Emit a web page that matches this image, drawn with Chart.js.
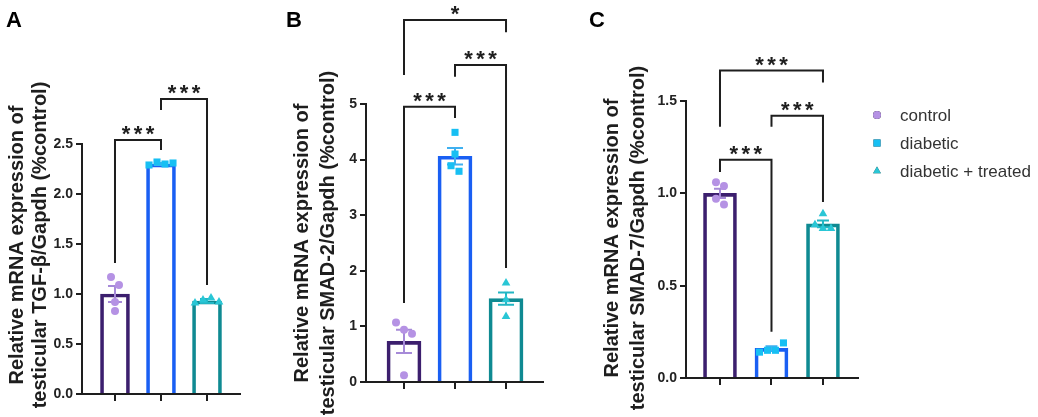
<!DOCTYPE html>
<html><head><meta charset="utf-8">
<script src="https://cdn.jsdelivr.net/npm/chart.js@4.4.0/dist/chart.umd.min.js"></script>
<style>
html,body{margin:0;padding:0;background:#fff;}
#wrap{position:relative;width:1038px;height:417px;overflow:hidden;background:#fff;}
canvas{position:absolute;top:0;}
</style></head><body>
<div id="wrap">
<canvas id="cA" width="262" height="417" style="left:0px"></canvas>
<canvas id="cB" width="318" height="417" style="left:262px"></canvas>
<canvas id="cC" width="458" height="417" style="left:580px"></canvas>
</div>
<script>
// ---------- DATA ----------
const groups = ['control', 'diabetic', 'diabetic + treated'];

// Panel A: TGF-β
const meanA = [1.00, 2.30, 0.93];
const semA  = [0.08, 0.01, 0.02];
const ptsA_control  = [1.17, 1.09, 0.92, 0.83];
const ptsA_diabetic = [2.29, 2.32, 2.30, 2.31];
const ptsA_treated  = [0.91, 0.94, 0.96, 0.92];
const yTicksA = [0, 0.5, 1.0, 1.5, 2.0, 2.5];
const sigA = [
  { from: 0, to: 1, top: 2.54, leftEnd: 1.31, rightEnd: 2.44, label: '***' },
  { from: 1, to: 2, top: 2.95, leftEnd: 2.84, rightEnd: 1.09, label: '***' }
];

// Panel B: SMAD-2
const meanB = [0.73, 4.06, 1.50];
const semB  = [0.21, 0.15, 0.11];
const ptsB_control  = [1.07, 0.94, 0.87, 0.12];
const ptsB_diabetic = [4.49, 4.10, 3.89, 3.79];
const ptsB_treated  = [1.78, 1.48, 1.18];
const yTicksB = [0, 1, 2, 3, 4, 5];
const sigB = [
  { from: 0, to: 1, top: 4.95, leftEnd: 1.42, rightEnd: 4.75, label: '***' },
  { from: 1, to: 2, top: 5.70, leftEnd: 5.49, rightEnd: 2.05, label: '***' },
  { from: 0, to: 2, top: 6.51, leftEnd: 5.52, rightEnd: 6.29, label: '*' }
];

// Panel C: SMAD-7
const meanC = [1.00, 0.16, 0.835];
const semC  = [0.025, 0.012, 0.018];
const ptsC_control  = [1.06, 1.04, 0.97, 0.94];
const ptsC_diabetic = [0.14, 0.15, 0.15, 0.19];
const ptsC_treated  = [0.89, 0.83, 0.81, 0.81];
const yTicksC = [0, 0.5, 1.0, 1.5];
const sigC = [
  { from: 0, to: 1, top: 1.182, leftEnd: 1.115, rightEnd: 0.25, label: '***' },
  { from: 1, to: 2, top: 1.42, leftEnd: 1.36, rightEnd: 0.953, label: '***' },
  { from: 0, to: 2, top: 1.665, leftEnd: 1.36, rightEnd: 1.60, label: '***' }
];

const titleLine1 = 'Relative mRNA expression of';
const titleA = 'testicular TGF-β/Gapdh (%control)';
const titleB = 'testicular SMAD-2/Gapdh (%control)';
const titleC = 'testicular SMAD-7/Gapdh (%control)';

// ---------- STYLE ----------
const FONT = "'Liberation Sans', Arial, Helvetica, sans-serif";
const barBorder  = ['#3c1f6e', '#1a5ff3', '#0f8a92'];
const pointColor = ['#b592e4', '#17bff3', '#29c6d5'];
const errColor   = ['#a68ad8', '#3fb0f0', '#22b6c4'];
const pointStyles = ['circle', 'rect', 'triangle'];
const pointRadius = [4, 5, 5];
const INK = '#1e1e1e';

function spreadOffsets(vals, pxPerUnit, gap) {
  const idx = vals.map((v, i) => i).sort((a, b) => vals[b] - vals[a]);
  const off = new Array(vals.length).fill(0);
  let cluster = [idx[0]];
  const flush = () => {
    const c = cluster.slice().sort((a, b) => a - b);
    const k = c.length;
    c.forEach((id, j) => { off[id] = (j - (k - 1) / 2) * gap; });
  };
  for (let i = 1; i < idx.length; i++) {
    const prev = idx[i - 1], cur = idx[i];
    if ((vals[prev] - vals[cur]) * pxPerUnit < gap) cluster.push(cur);
    else { flush(); cluster = [cur]; }
  }
  flush();
  return off;
}

function makePanel(id, p) {
  const cv = document.getElementById(id);
  const W = cv.width, H = cv.height;
  const a = p.area;
  const yMax = p.yTicks[p.yTicks.length - 1];
  const pxPerUnit = (a.bottom - a.top) / yMax;
  const pxPerCat = (a.right - a.left) / (p.xMax - p.xMin);

  const datasets = [{
    type: 'bar',
    order: 5,
    data: p.means.map((m, i) => ({ x: i, y: m })),
    backgroundColor: 'rgba(255,255,255,0)',
    borderColor: barBorder,
    borderWidth: 3,
    borderSkipped: 'bottom',
    barThickness: p.barThickness
  }];
  p.points.forEach((arr, g) => {
    const off = spreadOffsets(arr, pxPerUnit, 8);
    datasets.push({
      type: 'scatter',
      order: 0,
      data: arr.map((v, i) => ({ x: g + off[i] / pxPerCat, y: v })),
      pointStyle: pointStyles[g],
      pointRadius: pointRadius[g],
      pointBackgroundColor: pointColor[g],
      pointBorderWidth: 0,
      pointBorderColor: pointColor[g]
    });
  });

  const decor = {
    id: 'decor',
    afterDatasetDraw(chart, args) {
      if (args.index !== 0) return;
      const ctx = chart.ctx, xs = chart.scales.x, ys = chart.scales.y;
      ctx.save();
      ctx.lineWidth = 2;
      p.means.forEach((m, i) => {
        const x = xs.getPixelForValue(i);
        const yt = ys.getPixelForValue(m + p.sems[i]);
        const yb = ys.getPixelForValue(m - p.sems[i]);
        ctx.strokeStyle = errColor[i];
        ctx.beginPath();
        ctx.moveTo(x, yt); ctx.lineTo(x, yb);
        ctx.moveTo(x - p.cap, yt); ctx.lineTo(x + p.cap, yt);
        ctx.moveTo(x - p.cap, yb); ctx.lineTo(x + p.cap, yb);
        ctx.stroke();
      });
      ctx.restore();
    },
    afterDraw(chart) {
      const ctx = chart.ctx, xs = chart.scales.x, ys = chart.scales.y;
      ctx.save();
      // brackets
      ctx.strokeStyle = INK; ctx.lineWidth = 2; ctx.lineJoin = 'miter';
      ctx.fillStyle = INK;
      p.brackets.forEach(b => {
        const x1 = xs.getPixelForValue(b.from), x2 = xs.getPixelForValue(b.to);
        const yt = ys.getPixelForValue(b.top);
        const yl = ys.getPixelForValue(b.leftEnd), yr = ys.getPixelForValue(b.rightEnd);
        ctx.beginPath();
        ctx.moveTo(x1, yl); ctx.lineTo(x1, yt); ctx.lineTo(x2, yt); ctx.lineTo(x2, yr);
        ctx.stroke();
        const fs = 22;
        ctx.font = `bold ${fs}px ${FONT}`;
        ctx.textAlign = 'center'; ctx.textBaseline = 'alphabetic';
        const cx = (x1 + x2) / 2, cy = yt - 12;
        const n = b.label.length, sp = 12;
        for (let k = 0; k < n; k++) {
          ctx.fillText('*', cx + (k - (n - 1) / 2) * sp, cy + 0.6 * fs);
        }
      });
      // axis titles
      ctx.fillStyle = INK;
      ctx.font = `bold 20px ${FONT}`;
      ctx.textAlign = 'center'; ctx.textBaseline = 'middle';
      [p.title1, p.title2].forEach((t, k) => {
        ctx.save();
        ctx.translate(p.titleX[k], p.titleCY);
        ctx.rotate(-Math.PI / 2);
        ctx.fillText(t, 0, 0);
        ctx.restore();
      });
      // panel letter
      ctx.font = `bold 22px ${FONT}`;
      ctx.fillStyle = '#000';
      ctx.fillText(p.letter, p.letterX, p.letterY);
      // legend
      if (p.legend) {
        const lg = p.legend;
        groups.forEach((g, i) => {
          const y = lg.y + i * lg.step;
          Chart.helpers.drawPoint(ctx, {
            pointStyle: pointStyles[i], radius: i === 0 ? 4 : (i === 1 ? 5 : 4.5), borderWidth: 0
          }, lg.x, y);
          ctx.fillStyle = pointColor[i];
          ctx.fill();
          ctx.fillStyle = '#333';
          ctx.font = `17px ${FONT}`;
          ctx.textAlign = 'left'; ctx.textBaseline = 'middle';
          ctx.fillText(g, lg.x + 23, y + 1);
        });
      }
      ctx.restore();
    }
  };

  return new Chart(cv, {
    type: 'bar',
    data: { datasets },
    options: {
      responsive: false,
      animation: false,
      events: [],
      layout: { padding: { left: 0, right: W - a.right, top: a.top, bottom: 0 } },
      plugins: { legend: { display: false }, tooltip: { enabled: false } },
      scales: {
        x: {
          type: 'linear', min: p.xMin, max: p.xMax, offset: false,
          afterBuildTicks: s => { s.ticks = [0, 1, 2].map(v => ({ value: v })); },
          afterFit: s => { s.height = H - a.bottom; },
          ticks: { callback: () => '', display: true },
          grid: { display: true, offset: false, drawOnChartArea: false, drawTicks: true, tickLength: 7, color: INK, lineWidth: 2 },
          border: { display: true, color: INK, width: 2 }
        },
        y: {
          type: 'linear', min: 0, max: yMax,
          afterBuildTicks: s => { s.ticks = p.yTicks.map(v => ({ value: v })); },
          afterFit: s => { s.width = a.left; },
          ticks: {
            callback: v => v.toFixed(p.decimals),
            font: { family: FONT, size: 14, weight: 'bold' },
            color: '#222', padding: 3
          },
          grid: { display: true, offset: false, drawOnChartArea: false, drawTicks: true, tickLength: 6, color: INK, lineWidth: 2 },
          border: { display: true, color: INK, width: 2 }
        }
      }
    },
    plugins: [decor]
  });
}

makePanel('cA', {
  means: meanA, sems: semA, points: [ptsA_control, ptsA_diabetic, ptsA_treated],
  yTicks: yTicksA, decimals: 1, brackets: sigA,
  area: { left: 82, right: 240, top: 144, bottom: 394 },
  xMin: -0.717, xMax: 2.717, barThickness: 29, cap: 7,
  title1: titleLine1, title2: titleA, titleX: [17, 40], titleCY: 245,
  letter: 'A', letterX: 14, letterY: 21
});

makePanel('cB', {
  means: meanB, sems: semB, points: [ptsB_control, ptsB_diabetic, ptsB_treated],
  yTicks: yTicksB, decimals: 0, brackets: sigB,
  area: { left: 104, right: 281, top: 104, bottom: 382 },
  xMin: -0.745, xMax: 2.725, barThickness: 34, cap: 8,
  title1: titleLine1, title2: titleB, titleX: [40, 66], titleCY: 243,
  letter: 'B', letterX: 32, letterY: 21
});

makePanel('cC', {
  means: meanC, sems: semC, points: [ptsC_control, ptsC_diabetic, ptsC_treated],
  yTicks: yTicksC, decimals: 1, brackets: sigC,
  area: { left: 106, right: 278, top: 101, bottom: 378 },
  xMin: -0.66, xMax: 2.68, barThickness: 33, cap: 6,
  title1: titleLine1, title2: titleC, titleX: [32, 58], titleCY: 238,
  letter: 'C', letterX: 17, letterY: 21,
  legend: { x: 297, y: 115, step: 28 }
});
</script>
</body></html>
